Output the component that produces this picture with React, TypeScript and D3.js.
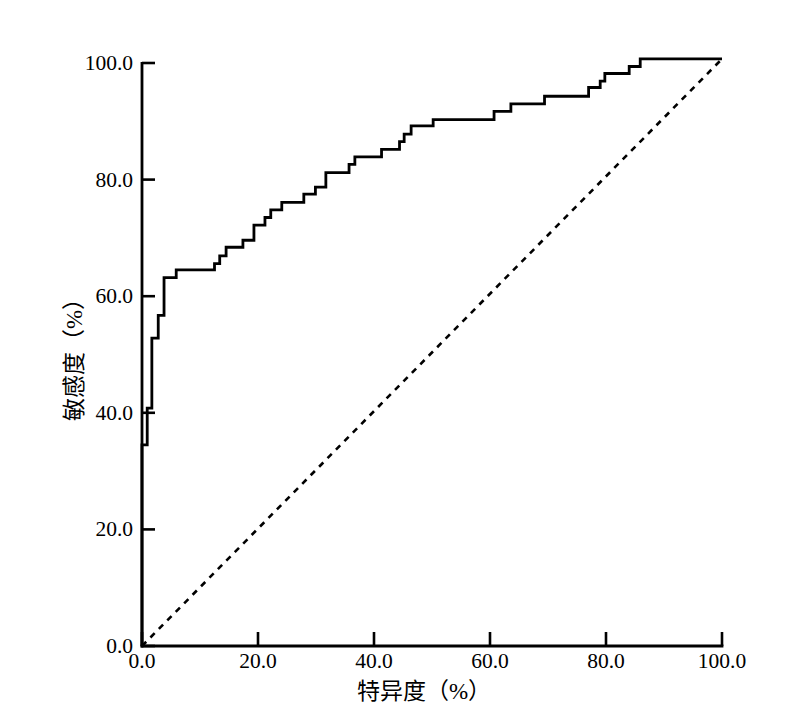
import React from "react";
import * as d3 from "d3";

// ROC step curve: specificity-complement (x, %) and sensitivity (y, %)
const rocX = [0, 0, 0.9, 1.7, 2.8, 3.8, 5.9, 12.5, 13.4, 14.5, 17.4, 19.3, 21.2, 22.2, 24.1, 27.9, 29.9, 31.7, 35.7, 36.7, 41.3, 44.4, 45.2, 46.4, 50.2, 60.7, 63.6, 69.4, 77.0, 79.0, 79.8, 84.0, 85.9, 100];
const rocY = [0, 34.5, 40.8, 52.8, 56.7, 63.2, 64.5, 65.6, 66.9, 68.4, 69.6, 72.2, 73.5, 74.8, 76.1, 77.5, 78.7, 81.2, 82.6, 83.9, 85.2, 86.5, 87.8, 89.2, 90.3, 91.7, 93.0, 94.3, 95.8, 96.9, 98.2, 99.4, 100.7, 100.7];
const refX = [0, 100];
const refY = [0, 100.7];
const tickValues = [0, 20, 40, 60, 80, 100];
const xTitle = "特异度（%）";
const yTitle = "敏感度（%）";

const W = 785;
const H = 714;
const left = 142, right = 722, top = 63, bottom = 646;

export default function App() {
  const x = d3.scaleLinear().domain([0, 100]).range([left, right]);
  const y = d3.scaleLinear().domain([0, 100]).range([bottom, top]);
  const pts: [number, number][] = rocX.map((v, i) => [v, rocY[i]]);
  const line = d3.line<[number, number]>().x(d => x(d[0])).y(d => y(d[1])).curve(d3.curveStepAfter);
  const refPts: [number, number][] = refX.map((v, i) => [v, refY[i]]);
  const refLine = d3.line<[number, number]>().x(d => x(d[0])).y(d => y(d[1]));
  const font = "'Liberation Serif', 'Noto Sans CJK SC', serif";
  return (
    <svg width={W} height={H} style={{ position: "absolute", left: 0, top: 0, background: "#fff" }}>
      <rect x={0} y={0} width={W} height={H} fill="#fff" />
      <path d={refLine(refPts) || ""} fill="none" stroke="#000" strokeWidth={2.6} strokeDasharray="6,6" />
      <path d={line(pts) || ""} fill="none" stroke="#000" strokeWidth={2.8} strokeLinejoin="miter" />
      {/* axes */}
      <line x1={left} x2={left} y1={top - 1} y2={bottom + 1.5} stroke="#000" strokeWidth={2.8} />
      <line x1={left - 1.4} x2={right + 1.4} y1={bottom} y2={bottom} stroke="#000" strokeWidth={2.8} />
      {tickValues.map(t => (
        <g key={"y" + t}>
          <line x1={left} x2={left + 13} y1={y(t)} y2={y(t)} stroke="#000" strokeWidth={2.6} />
          <text x={left - 9} y={y(t) + 7} textAnchor="end" fontFamily={font} fontSize={21.5} fill="#000">{t.toFixed(1)}</text>
        </g>
      ))}
      {tickValues.map(t => (
        <g key={"x" + t}>
          <line x1={x(t)} x2={x(t)} y1={bottom} y2={bottom - 14} stroke="#000" strokeWidth={2.6} />
          <text x={x(t)} y={bottom + 22} textAnchor="middle" fontFamily={font} fontSize={21.5} fill="#000">{t.toFixed(1)}</text>
        </g>
      ))}
      <text x={424} y={699} textAnchor="middle" fontFamily={font} fontSize={23} fill="#000">{xTitle}</text>
      <text transform={`translate(82,354) rotate(-90)`} textAnchor="middle" fontFamily={font} fontSize={23} fill="#000">{yTitle}</text>
    </svg>
  );
}
